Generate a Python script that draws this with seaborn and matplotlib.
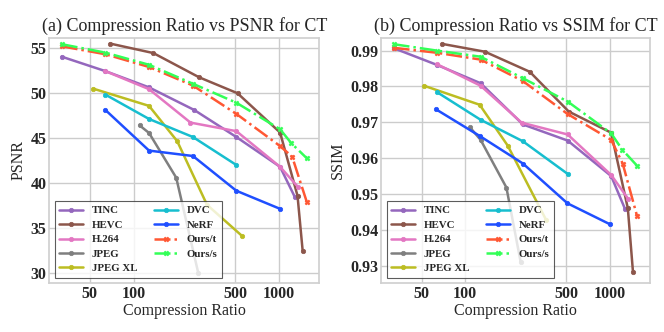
import matplotlib
matplotlib.use("Agg")
import matplotlib.pyplot as plt
from matplotlib.ticker import NullFormatter, FixedLocator, FixedFormatter
import seaborn as sns
import pandas as pd

# ─── Data ─────────────────────────────────────────────────────────────────────
METHODS = ["TINC", "HEVC", "H.264", "JPEG", "JPEG XL", "DVC", "NeRF", "Ours/t", "Ours/s"]
COLORS  = ["#9467bd", "#8c564b", "#e377c2", "#7f7f7f", "#bcbd22",
           "#17becf", "#1f4fff", "#ff5733", "#33ff57"]

# compression ratio / PSNR
psnr_cr = {
    "TINC":    [32, 64, 128, 262, 512, 1024, 1290],
    "HEVC":    [69, 137, 283, 521, 1024, 1350, 1465],
    "H.264":   [64, 128, 247, 512, 1024, 1365],
    "JPEG":    [110, 128, 197, 279],
    "JPEG XL": [53, 128, 200, 321, 560],
    "DVC":     [64, 128, 257, 512],
    "NeRF":    [64, 128, 257, 512, 1024],
    "Ours/t":  [32, 64, 128, 257, 512, 1024, 1240, 1565],
    "Ours/s":  [32, 64, 128, 257, 512, 1024, 1225, 1565],
}
psnr_val = {
    "TINC":    [54.0, 52.4, 50.6, 48.1, 45.1, 41.8, 38.5],
    "HEVC":    [55.45, 54.4, 51.72, 49.95, 45.6, 38.6, 32.5],
    "H.264":   [52.4, 50.4, 46.7, 45.75, 41.8, 39.55],
    "JPEG":    [46.4, 45.55, 40.6, 30.1],
    "JPEG XL": [50.45, 48.55, 44.65, 37.6, 34.15],
    "DVC":     [49.8, 47.1, 45.1, 42.0],
    "NeRF":    [48.1, 43.6, 43.0, 39.15, 37.15],
    "Ours/t":  [55.15, 54.27, 52.86, 50.8, 47.66, 44.1, 42.93, 37.9],
    "Ours/s":  [55.38, 54.45, 53.1, 51.0, 48.9, 45.96, 44.41, 42.75],
}

# compression ratio / SSIM
ssim_cr = {
    "TINC":    [32, 64, 128, 251, 512, 1024, 1280],
    "HEVC":    [69, 137, 280, 521, 1024, 1335, 1450],
    "H.264":   [64, 128, 246, 512, 1024, 1345],
    "JPEG":    [108, 128, 193, 242],
    "JPEG XL": [52, 126, 197, 364],
    "DVC":     [64, 128, 251, 512],
    "NeRF":    [63, 126, 251, 510, 1010],
    "Ours/t":  [32, 64, 128, 251, 512, 1024, 1230, 1545],
    "Ours/s":  [32, 64, 128, 251, 512, 1024, 1220, 1545],
}
ssim_val = {
    "TINC":    [0.9907, 0.9860, 0.9809, 0.9694, 0.9649, 0.9550, 0.9457],
    "HEVC":    [0.9919, 0.9897, 0.9841, 0.9730, 0.9671, 0.9460, 0.9281],
    "H.264":   [0.9862, 0.9802, 0.9699, 0.9666, 0.9553, 0.9486],
    "JPEG":    [0.9686, 0.9651, 0.9518, 0.9311],
    "JPEG XL": [0.9802, 0.9749, 0.9635, 0.9427],
    "DVC":     [0.9784, 0.9707, 0.9647, 0.9556],
    "NeRF":    [0.9736, 0.9662, 0.9585, 0.9474, 0.9415],
    "Ours/t":  [0.9908, 0.9894, 0.9875, 0.9815, 0.9723, 0.9651, 0.9585, 0.9439],
    "Ours/s":  [0.9918, 0.9900, 0.9883, 0.9823, 0.9758, 0.9669, 0.9624, 0.9579],
}

X_TICKS      = [50, 100, 500, 1000]
PSNR_TICKS   = [30, 35, 40, 45, 50, 55]
SSIM_TICKS   = [0.93, 0.94, 0.95, 0.96, 0.97, 0.98, 0.99]

# ─── Style ────────────────────────────────────────────────────────────────────
sns.set_theme(style="whitegrid")
plt.rcParams["font.family"] = ["Liberation Serif", "DejaVu Serif"]

fig = plt.figure(figsize=(6.64, 3.32), dpi=100)
ax_l = fig.add_axes([0.0743, 0.1476, 0.4062, 0.738])
ax_r = fig.add_axes([0.5742, 0.1476, 0.4047, 0.738])


def draw(ax, cr, val, title, ylabel, yticks, ylim, yfmt):
    for name, color in zip(METHODS, COLORS):
        ours = name.startswith("Ours")
        df = pd.DataFrame({"cr": cr[name], "v": val[name]})
        sns.lineplot(data=df, x="cr", y="v", ax=ax, color=color,
                     estimator=None, sort=False, label=name,
                     linewidth=1.8, linestyle="-." if ours else "-",
                     marker="X" if ours else "o",
                     markersize=3.5 if ours else 3.2,
                     markeredgewidth=0.5, markeredgecolor=color)
    ax.set_xscale("log")
    ax.set_xlim(26.3, 1900)
    ax.set_ylim(*ylim)
    ax.xaxis.set_major_locator(FixedLocator(X_TICKS))
    ax.xaxis.set_major_formatter(FixedFormatter([str(t) for t in X_TICKS]))
    ax.xaxis.set_minor_formatter(NullFormatter())
    ax.xaxis.set_minor_locator(FixedLocator([]))
    ax.set_yticks(yticks)
    ax.set_yticklabels([yfmt.format(t) for t in yticks])
    for lab in ax.get_xticklabels() + ax.get_yticklabels():
        lab.set_fontweight("bold")
        lab.set_fontsize(11.5)
    ax.tick_params(axis="x", length=0, pad=2)
    ax.tick_params(axis="y", length=0, pad=2)
    ax.set_title(title, fontsize=13, pad=5)
    ax.set_xlabel("Compression Ratio", fontsize=11.5, labelpad=1)
    ax.set_ylabel(ylabel, fontsize=11.5, labelpad=3)
    for sp in ax.spines.values():
        sp.set_color("#d0d0d0")
    leg = ax.legend(loc="lower left", ncol=2, frameon=True, fancybox=False,
                    prop={"weight": "bold", "size": 7.8},
                    handlelength=2.2, columnspacing=1.6, labelspacing=0.45,
                    borderaxespad=0.5)
    leg.get_frame().set_edgecolor("#333333")
    leg.get_frame().set_linewidth(0.8)


draw(ax_l, psnr_cr, psnr_val, "(a) Compression Ratio vs PSNR for CT", "PSNR",
     PSNR_TICKS, (28.94, 56.07), "{:d}")
draw(ax_r, ssim_cr, ssim_val, "(b) Compression Ratio vs SSIM for CT", "SSIM",
     SSIM_TICKS, (0.92516, 0.99353), "{:.2f}")

fig.savefig("out.png", dpi=100)
